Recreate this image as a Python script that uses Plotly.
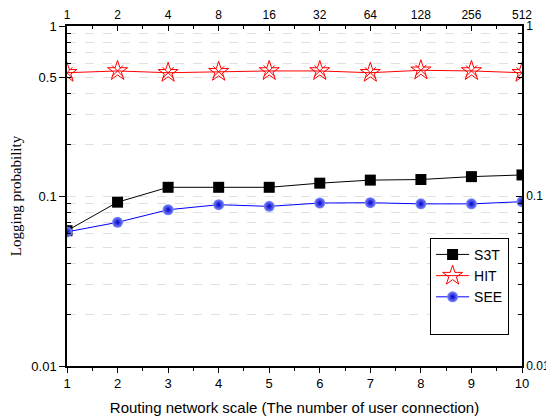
import plotly.graph_objects as go

x_vals = [1, 2, 3, 4, 5, 6, 7, 8, 9, 10]
top_labels = ["1", "2", "4", "8", "16", "32", "64", "128", "256", "512"]
s3t = [0.0625, 0.092, 0.1125, 0.1125, 0.1125, 0.119, 0.124, 0.125, 0.130, 0.133]
hit = [0.531, 0.544, 0.531, 0.538, 0.544, 0.544, 0.531, 0.549, 0.544, 0.531]
see = [0.0615, 0.070, 0.083, 0.0889, 0.0869, 0.0909, 0.0913, 0.0899, 0.0899, 0.0926]

left_ticks = [0.01, 0.1, 0.5, 1]
left_text = ["0.01", "0.1", "0.5", "1"]
right_ticks = [0.01, 0.1, 1]
right_text = ["0.01", "0.1", "1"]
minor_vals = [m * 10 ** e for e in (-2, -1) for m in range(2, 10)]

fig = go.Figure()
fig.add_trace(go.Scatter(x=x_vals, y=s3t, name="S3T", mode="lines+markers",
                         line=dict(color="black", width=1),
                         marker=dict(symbol="square", size=11, color="black")))
fig.add_trace(go.Scatter(x=x_vals, y=hit, name="HIT", mode="lines+markers",
                         line=dict(color="red", width=1),
                         marker=dict(symbol="star-open", size=15, color="red",
                                     line=dict(color="red", width=1))))
fig.add_trace(go.Scatter(x=x_vals, y=hit, showlegend=False, mode="markers",
                         marker=dict(symbol="x-thin-open", size=11, color="red",
                                     line=dict(color="red", width=1)),
                         hoverinfo="skip"))
fig.add_trace(go.Scatter(x=x_vals, y=see, name="SEE", mode="lines+markers",
                         line=dict(color="blue", width=1),
                         marker=dict(symbol="circle", size=11, color="#7f8cff",
                                     gradient=dict(type="radial", color="#0000c8"),
                                     line=dict(width=0))))
fig.add_trace(go.Scatter(x=[None], y=[None], name=" ", mode="lines",
                         line=dict(color="rgba(0,0,0,0)"), hoverinfo="skip"))
fig.add_trace(go.Scatter(x=x_vals, y=hit, xaxis="x2", yaxis="y2", showlegend=False,
                         mode="markers", marker=dict(opacity=0), hoverinfo="skip"))

axis_font = dict(family="Liberation Sans, Arial, sans-serif", size=13, color="black")
small_font = dict(family="Liberation Sans, Arial, sans-serif", size=12, color="black")

fig.update_layout(
    width=546, height=412,
    margin=dict(l=59, r=32, t=18, b=54),
    plot_bgcolor="white", paper_bgcolor="white",
    font=axis_font,
    xaxis=dict(range=[1, 10], tickvals=x_vals, showline=True, linecolor="black",
               linewidth=1.5, ticks="outside", ticklen=5, tickcolor="black",
               showgrid=False, zeroline=False, tickfont=axis_font, automargin=False,
               minor=dict(dtick=0.5, ticks="outside", ticklen=3, tickcolor="black", showgrid=False),
               title=dict(text="Routing network scale (The number of user connection)",
                          font=dict(family="Liberation Sans, Arial, sans-serif", size=15),
                          standoff=12)),
    xaxis2=dict(range=[1, 10], overlaying="x", side="top", tickvals=x_vals,
                ticktext=top_labels, showline=True, linecolor="black", linewidth=1.5,
                ticks="inside", ticklen=5, tickcolor="black", showgrid=False, zeroline=False,
                tickfont=small_font, automargin=False,
                minor=dict(dtick=0.5, ticks="inside", ticklen=3, tickcolor="black", showgrid=False)),
    yaxis=dict(type="log", range=[-2, 0], tickvals=left_ticks, ticktext=left_text,
               showline=True, linecolor="black", linewidth=1.5, ticks="outside",
               ticklen=6, tickcolor="black", tickfont=axis_font, automargin=False,
               showgrid=True, gridcolor="#e0e0e0", griddash="dash", gridwidth=1,
               minor=dict(tickvals=minor_vals, ticks="inside", ticklen=4, tickcolor="black",
                          showgrid=True, gridcolor="#e0e0e0", griddash="dash", gridwidth=1),
               title=dict(text="Logging probability",
                          font=dict(family="Liberation Serif, Times New Roman, serif", size=15),
                          standoff=8)),
    yaxis2=dict(type="log", range=[-2, 0], overlaying="y", side="right",
                tickvals=right_ticks, ticktext=right_text, showline=True, linecolor="black",
                linewidth=1.5, ticks="inside", ticklen=6, tickcolor="black",
                tickfont=small_font, showgrid=False, automargin=False,
                minor=dict(tickvals=minor_vals, ticks="inside", ticklen=4, tickcolor="black",
                           showgrid=False)),
    legend=dict(x=0.798, y=0.377, xanchor="left", yanchor="top",
                bgcolor="white", bordercolor="black", borderwidth=1,
                font=dict(family="Liberation Sans, Arial, sans-serif", size=14),
                itemwidth=33, tracegroupgap=0),
    showlegend=True,
)

fig.write_html("out.html")
